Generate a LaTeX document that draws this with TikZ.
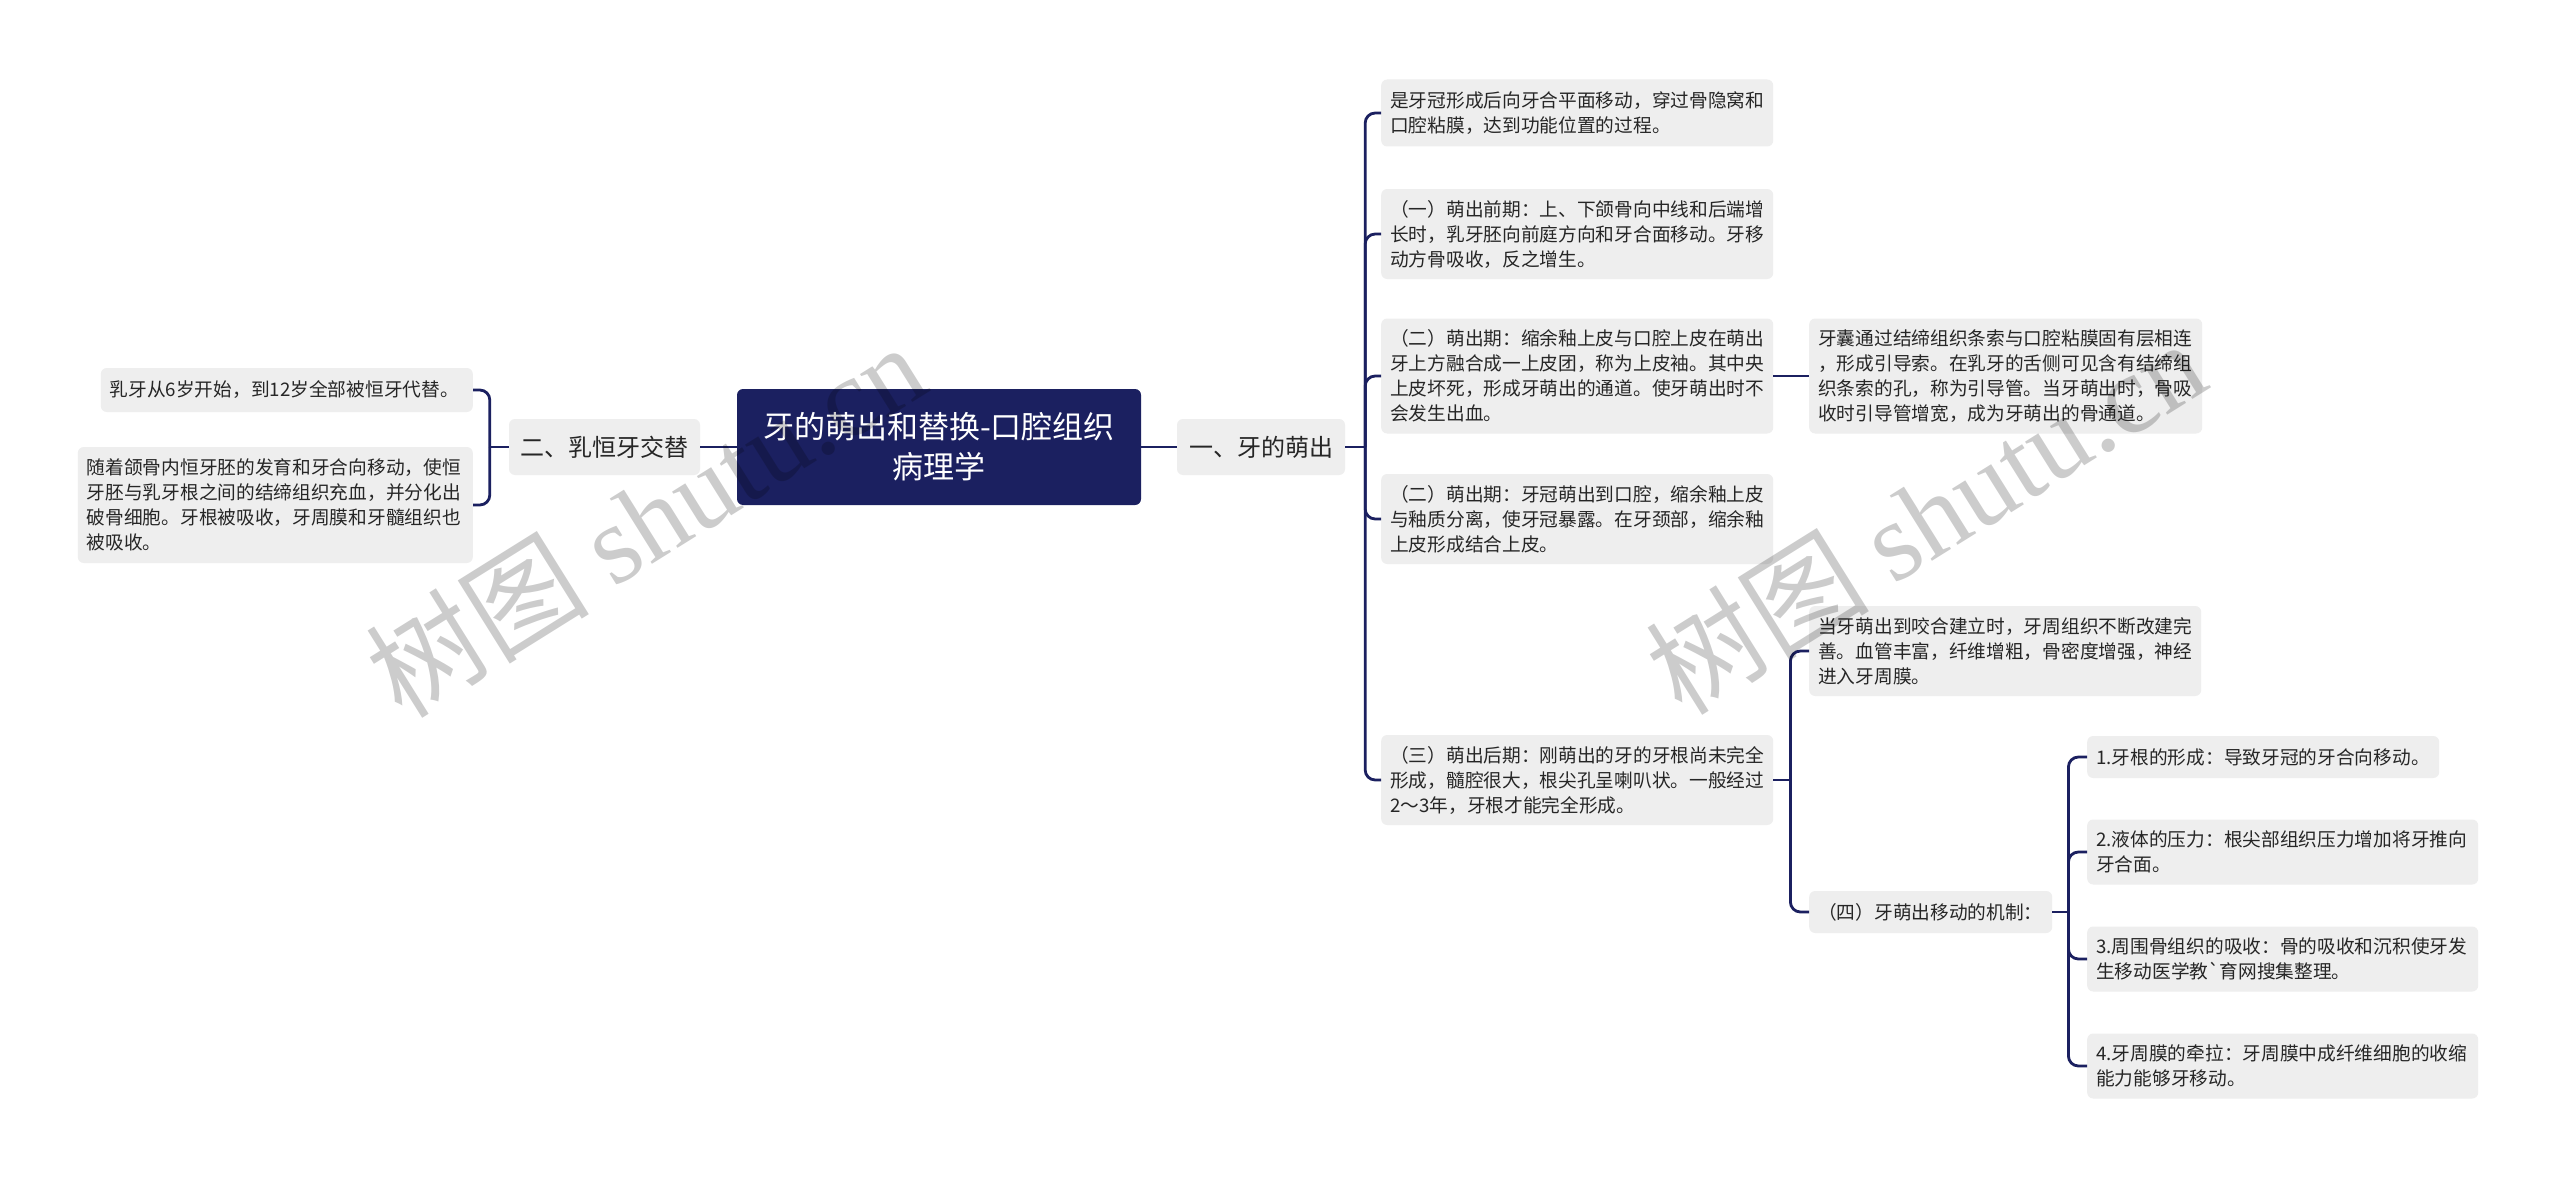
\documentclass[tikz,border=0pt]{standalone}
\usepackage{fontspec}
\newfontfamily\cjk{Noto Sans CJK SC}
\newfontfamily\wmlatin{Liberation Serif}
\definecolor{navy}{HTML}{1B2060}
\definecolor{leafgray}{HTML}{EEEEEE}
\definecolor{txt}{HTML}{262626}
\begin{document}
\begin{tikzpicture}[x=1pt,y=-1pt,
  leaf/.style={fill=leafgray, rounded corners=6pt, inner xsep=9pt, inner ysep=0pt,
    font=\cjk\fontsize{18.7}{25}\selectfont, text=txt, align=left},
  mid/.style={fill=leafgray, rounded corners=6pt, inner sep=0pt,
    font=\cjk\fontsize{24}{30}\selectfont, text=txt, align=center},
  rootbox/.style={fill=navy, rounded corners=6pt, inner sep=0pt,
    font=\cjk\fontsize{31}{40}\selectfont, text=white, align=center},
  conn/.style={draw=navy, line width=2.8pt},
  elbow/.style={conn, rounded corners=10pt},
  wm/.style={text=black, text opacity=0.2, inner sep=0pt}
]
\useasboundingbox (0,0) rectangle (2560,1180);
\fill[white] (0,0) rectangle (2560,1180);

% root and first level
\node[rootbox, minimum width=404pt, minimum height=116pt] (root) at (939,447)
  {牙的萌出和替换-口腔组织\\病理学};
\node[mid, minimum width=168pt, minimum height=56pt] (one) at (1261,447) {一、牙的萌出};
\node[mid, minimum width=191pt, minimum height=56pt] (two) at (604.5,447) {二、乳恒牙交替};

% left children
\node[leaf, anchor=east, text width=354pt, minimum height=44pt] (l1) at (473,390)
  {乳牙从6岁开始，到12岁全部被恒牙代替。};
\node[leaf, anchor=east, text width=377pt, minimum height=116pt] (l2) at (473,505)
  {随着颌骨内恒牙胚的发育和牙合向移动，使恒\\牙胚与乳牙根之间的结缔组织充血，并分化出\\破骨细胞。牙根被吸收，牙周膜和牙髓组织也\\被吸收。};

% right children of one
\node[leaf, anchor=west, text width=374pt, minimum height=67pt] (r1) at (1381,113)
  {是牙冠形成后向牙合平面移动，穿过骨隐窝和\\口腔粘膜，达到功能位置的过程。};
\node[leaf, anchor=west, text width=374pt, minimum height=90pt] (r2) at (1381,234)
  {（一）萌出前期：上、下颌骨向中线和后端增\\长时，乳牙胚向前庭方向和牙合面移动。牙移\\动方骨吸收，反之增生。};
\node[leaf, anchor=west, text width=374pt, minimum height=115pt] (r3) at (1381,376)
  {（二）萌出期：缩余釉上皮与口腔上皮在萌出\\牙上方融合成一上皮团，称为上皮袖。其中央\\上皮坏死，形成牙萌出的通道。使牙萌出时不\\会发生出血。};
\node[leaf, anchor=west, text width=374pt, minimum height=90pt] (r4) at (1381,519)
  {（二）萌出期：牙冠萌出到口腔，缩余釉上皮\\与釉质分离，使牙冠暴露。在牙颈部，缩余釉\\上皮形成结合上皮。};
\node[leaf, anchor=west, text width=374pt, minimum height=90pt] (r5) at (1381,780)
  {（三）萌出后期：刚萌出的牙的牙根尚未完全\\形成，髓腔很大，根尖孔呈喇叭状。一般经过\\2～3年，牙根才能完全形成。};

% third level
\node[leaf, anchor=west, text width=375pt, minimum height=115pt] (r3a) at (1809,376)
  {牙囊通过结缔组织条索与口腔粘膜固有层相连\\，形成引导索。在乳牙的舌侧可见含有结缔组\\织条索的孔，称为引导管。当牙萌出时，骨吸\\收时引导管增宽，成为牙萌出的骨通道。};
\node[leaf, anchor=west, text width=374pt, minimum height=90pt] (r5a) at (1809,651)
  {当牙萌出到咬合建立时，牙周组织不断改建完\\善。血管丰富，纤维增粗，骨密度增强，神经\\进入牙周膜。};
\node[leaf, anchor=west, text width=225pt, minimum height=42pt] (r5b) at (1809,912)
  {（四）牙萌出移动的机制：};

% fourth level
\node[leaf, anchor=west, text width=334pt, minimum height=42pt] (m1) at (2087,757)
  {1.牙根的形成：导致牙冠的牙合向移动。};
\node[leaf, anchor=west, text width=373pt, minimum height=65pt] (m2) at (2087,852)
  {2.液体的压力：根尖部组织压力增加将牙推向\\牙合面。};
\node[leaf, anchor=west, text width=373pt, minimum height=65pt] (m3) at (2087,959)
  {3.周围骨组织的吸收：骨的吸收和沉积使牙发\\生移动医学教`育网搜集整理。};
\node[leaf, anchor=west, text width=373pt, minimum height=65pt] (m4) at (2087,1066)
  {4.牙周膜的牵拉：牙周膜中成纤维细胞的收缩\\能力能够牙移动。};

% connectors
\draw[conn] (root.east) -- (one.west);
\draw[conn] (root.west) -- (two.east);

\draw[conn] (two.west) -- ++(-19,0);
\foreach \c in {l1,l2}
  \draw[elbow] (two.west) ++(-19,0) |- (\c.east);

\draw[conn] (one.east) -- ++(20,0);
\foreach \c in {r1,r2,r3,r4,r5}
  \draw[elbow] (one.east) ++(20,0) |- (\c.west);

\draw[conn] (r3.east) -- (r3a.west);

\draw[conn] (r5.east) -- ++(17,0);
\foreach \c in {r5a,r5b}
  \draw[elbow] (r5.east) ++(17,0) |- (\c.west);

\draw[conn] (r5b.east) -- ++(16,0);
\foreach \c in {m1,m2,m3,m4}
  \draw[elbow] (r5b.east) ++(16,0) |- (\c.west);

% watermarks
\node[wm, rotate=32] (wm1) at (645,519)
  {\cjk\fontsize{112}{112}\selectfont 树图 \wmlatin shutu.cn};
\node[wm, rotate=32] (wm2) at (1925,516)
  {\cjk\fontsize{112}{112}\selectfont 树图 \wmlatin shutu.cn};
\end{tikzpicture}
\end{document}
